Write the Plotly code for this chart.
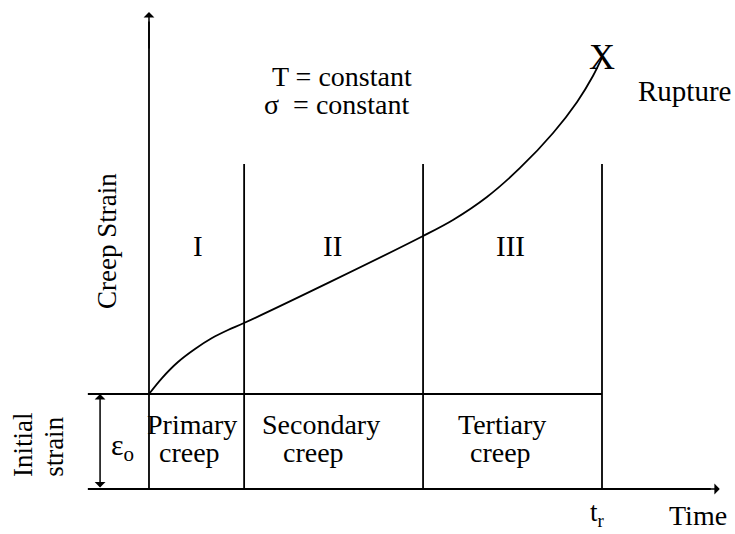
import plotly.graph_objects as go

# ---- data (schematic units: time t, strain s; eps0 = 1, rupture time t_r = 10) ----
t_curve = [0.0, 0.287, 0.640, 1.015, 1.391, 1.744, 2.097, 4.0, 6.05, 6.71, 7.46, 8.19, 8.92, 9.45, 9.80, 10.0]
s_curve = [1.0, 1.168, 1.337, 1.474, 1.589, 1.674, 1.747, 2.18, 2.663, 2.832, 3.074, 3.379, 3.747, 4.074, 4.347, 4.54]
eps0 = 1.0
stage_bounds = [2.1, 6.05, 10.0]          # end of primary, secondary, tertiary (t_r)
stage_top = 3.42
stage_roman = ["I", "II", "III"]
stage_roman_t = [1.08, 4.06, 7.97]
stage_names = ["Primary", "Secondary", "Tertiary"]
stage_names_t = [0.95, 3.80, 7.79]
stage_creep_t = [0.905, 3.64, 7.77]
x_range = [-3.289, 12.936]
y_range = [-0.4737, 5.147]
y_axis_top = 5.02
x_axis_end = 12.6
left_line_start = -1.35
eps_arrow_t = -1.08

FONT = "Liberation Serif"
LW = 1.8

fig = go.Figure()

# creep curve
fig.add_trace(go.Scatter(x=t_curve, y=s_curve, mode="lines",
                         line=dict(color="black", width=LW, shape="spline", smoothing=0.9),
                         hoverinfo="skip", showlegend=False))

# stage boundary vertical lines
for tb in stage_bounds:
    fig.add_trace(go.Scatter(x=[tb, tb], y=[0, stage_top], mode="lines",
                             line=dict(color="black", width=LW), hoverinfo="skip", showlegend=False))

# initial strain horizontal line
fig.add_trace(go.Scatter(x=[left_line_start, stage_bounds[-1]], y=[eps0, eps0], mode="lines",
                         line=dict(color="black", width=LW), hoverinfo="skip", showlegend=False))
# bottom time axis line
fig.add_trace(go.Scatter(x=[left_line_start, x_axis_end - 0.2], y=[0, 0], mode="lines",
                         line=dict(color="black", width=LW), hoverinfo="skip", showlegend=False))
# vertical strain axis
fig.add_trace(go.Scatter(x=[0, 0], y=[0, y_axis_top - 0.1], mode="lines",
                         line=dict(color="black", width=LW), hoverinfo="skip", showlegend=False))

ann = []
# arrow heads for axes
ann.append(dict(x=x_axis_end, y=0, ax=x_axis_end - 0.5, ay=0, xref="x", yref="y", axref="x", ayref="y",
                showarrow=True, arrowhead=1, arrowsize=1.2, arrowwidth=1.5, arrowcolor="black", text=""))
ann.append(dict(x=0, y=y_axis_top, ax=0, ay=y_axis_top - 0.4, xref="x", yref="y", axref="x", ayref="y",
                showarrow=True, arrowhead=1, arrowsize=1.2, arrowwidth=1.5, arrowcolor="black", text=""))
# double arrow for initial strain
ann.append(dict(x=eps_arrow_t, y=eps0, ax=eps_arrow_t, ay=0, xref="x", yref="y", axref="x", ayref="y",
                showarrow=True, arrowhead=1, startarrowhead=1, arrowside="end+start",
                arrowsize=1.2, startarrowsize=1.2, arrowwidth=1.5, arrowcolor="black", text=""))


def txt(t, s, text, size=28, angle=0, yanchor="middle"):
    ann.append(dict(x=t, y=s, xref="x", yref="y", text=text, showarrow=False, textangle=angle,
                    font=dict(family=FONT, size=size, color="black"),
                    xanchor="center", yanchor=yanchor))


txt(4.26, 4.337, "T = constant", 28)
txt(4.15, 4.05, "σ  = constant", 28)
txt(10.0, 4.547, "X", 36)
txt(11.83, 4.19, "Rupture", 29)
txt(-0.927, 2.61, "Creep Strain", 27, angle=-90)
for t, r in zip(stage_roman_t, stage_roman):
    txt(t, 2.56, r, 29)
for t, n in zip(stage_names_t, stage_names):
    txt(t, 0.684, n, 28)
for t in stage_creep_t:
    txt(t, 0.379, "creep", 28)
txt(-0.574, 0.442, "ε<sub>o</sub>", 30)
txt(-2.78, 0.463, "Initial", 27, angle=-90)
txt(-2.10, 0.442, "strain", 27, angle=-90)
txt(9.89, y_range[0] + 0.01, "t<sub>r</sub>", 27, yanchor="bottom")
txt(12.12, y_range[0] + 0.01, "Time", 28, yanchor="bottom")

fig.update_layout(
    width=735, height=534,
    margin=dict(l=0, r=0, t=0, b=0),
    paper_bgcolor="white", plot_bgcolor="white",
    xaxis=dict(range=x_range, visible=False, fixedrange=True),
    yaxis=dict(range=y_range, visible=False, fixedrange=True),
    annotations=ann,
    showlegend=False,
)

fig.write_html("out.html", config={"displayModeBar": False},
               post_script="document.body.style.margin='0';document.body.style.overflow='hidden';")
